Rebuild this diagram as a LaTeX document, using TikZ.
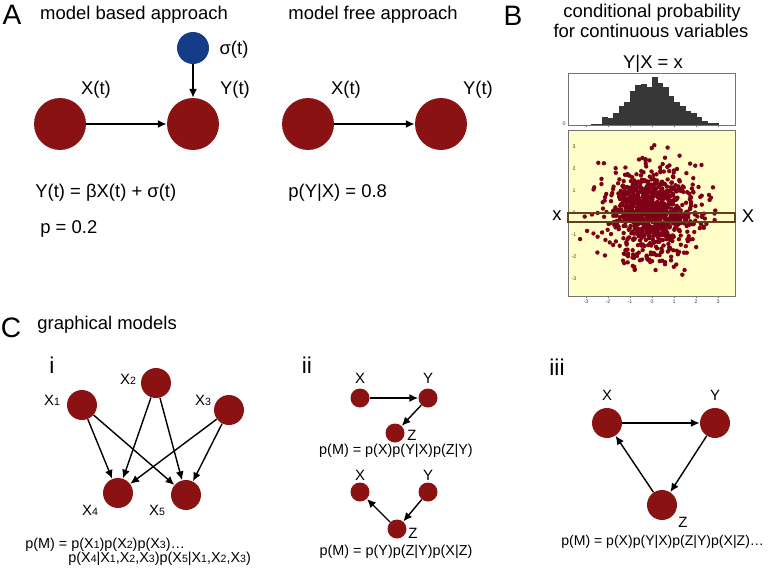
\documentclass[tikz,border=0pt]{standalone}
\usepackage{fontspec}
\setmainfont{Liberation Sans}
\usetikzlibrary{arrows.meta}
\definecolor{varred}{RGB}{138,18,18}
\definecolor{noiseblue}{RGB}{20,60,135}
\definecolor{plotyellow}{RGB}{255,253,200}
\definecolor{dotred}{RGB}{125,0,22}
\definecolor{bargray}{RGB}{55,55,55}
\definecolor{slicebrown}{RGB}{95,65,30}
\newcommand{\vidx}[1]{{\fontsize{6}{7}\selectfont #1}}
\tikzstyle{bigvar}=[circle, fill=varred, inner sep=0pt, minimum size=1.04cm]
\tikzstyle{midvar}=[circle, fill=varred, inner sep=0pt, minimum size=0.6cm]
\tikzstyle{smallvar}=[circle, fill=varred, inner sep=0pt, minimum size=0.38cm]
\tikzstyle{noisevar}=[circle, fill=noiseblue, inner sep=0pt, minimum size=0.64cm]
\tikzstyle{edge}=[-{Latex[length=5pt,width=4.5pt]}, line width=0.8pt]
\tikzstyle{panel}=[inner sep=0pt, font=\fontsize{16}{18}\selectfont]
\tikzstyle{heading}=[inner sep=0pt, font=\fontsize{10.5}{12.5}\selectfont]
\tikzstyle{numeral}=[inner sep=0pt, font=\fontsize{13}{15}\selectfont]
\tikzstyle{varlabel}=[inner sep=0pt, font=\fontsize{8.5}{10}\selectfont]
\tikzstyle{formula}=[inner sep=0pt, font=\fontsize{8.2}{10}\selectfont]
\tikzstyle{ticklabel}=[inner sep=0pt, text=black!75, font=\fontsize{3}{3.5}\selectfont]
\tikzstyle{frame}=[draw=black!55, line width=0.35pt]

\begin{document}
\begin{tikzpicture}[x=0.02cm, y=-0.02cm]
  \useasboundingbox (0,0) rectangle (768,572);

  \node[panel] (pa) at (12,15) {A};
  \node[heading] (basedtitle) at (134,15) {model based approach};
  \node[heading] (freetitle) at (373,15) {model free approach};
  \node[bigvar] (bx) at (60,124) {};
  \node[bigvar] (by) at (193,124) {};
  \node[noisevar] (bs) at (193,48) {};
  \node[heading] (bxl) at (96,90) {X(t)};
  \node[heading] (byl) at (235,90) {Y(t)};
  \node[heading] (bsl) at (234,50) {σ(t)};
  \draw[edge] (bx) -- (by);
  \draw[edge] (bs) -- (by);
  \node[heading, anchor=west] (beq) at (35,193) {Y(t) = βX(t) + σ(t)};
  \node[heading, anchor=west] (bp) at (40,229) {p = 0.2};
  \node[bigvar] (fx) at (308,124) {};
  \node[bigvar] (fy) at (441,124) {};
  \node[heading] (fxl) at (346,90) {X(t)};
  \node[heading] (fyl) at (478,90) {Y(t)};
  \draw[edge] (fx) -- (fy);
  \node[heading, anchor=west] (feq) at (288,193) {p(Y|X) = 0.8};

  \node[panel] (pb) at (513,16) {B};
  \node[heading] (condtitle) at (652,13) {conditional probability};
  \node[heading] (condtitleb) at (651,31) {for continuous variables};
  \node[heading] (histtitle) at (653,64) {Y|X = x};
  \foreach \h [count=\i from 0] in {0.7,1.3,8,6.7,12.3,19.3,23.3,34,40,41.3,38,48.3,41.7,37.7,29.3,23.3,19,14,11.7,7.7,4.3,2,1.7}
    \fill[bargray] ({591+5.56*\i},125) rectangle ({591+5.56*(\i+1)},{125-\h});
  \draw[frame] (568,73) rectangle (735,125);
  \foreach \t in {-3,...,3}
    \draw[frame] ({652+22*\t},125) -- ({652+22*\t},127);
  \node[ticklabel] (histzero) at (564,124) {0};
  \begin{scope}
    \clip (568,130) rectangle (735,296);
    \fill[plotyellow] (568,130) rectangle (735,296);
    \pgfmathsetseed{42}
    \foreach \k in {1,...,1000}{
      \pgfmathsetmacro\rr{sqrt(-2*ln(0.001+0.998*rnd))}
      \pgfmathsetmacro\aa{360*rnd}
      \fill[dotred] ({652+21.8*\rr*cos(\aa)},{213-22*\rr*sin(\aa)}) circle[radius=2.2];
    }
  \end{scope}
  \draw[frame] (568,130) rectangle (735,296);
  \draw[slicebrown, line width=0.7pt] (568,213) rectangle (735,222);
  \foreach \t in {-3,...,3}{
    \draw[frame] ({652+22*\t},296) -- ({652+22*\t},298);
    \node[ticklabel] at ({652+22*\t},302) {\t};
    \node[ticklabel] at (574,{213-22*\t}) {\t};
  }
  \node[heading] (slicex) at (557,216) {x};
  \node[heading] (axisx) at (748,216) {X};

  \node[panel] (pc) at (11,328) {C};
  \node[heading, anchor=west] (gmtitle) at (37,325) {graphical models};
  \node[numeral] (ni) at (52,365) {i};
  \node[midvar] (x1) at (82,405) {};
  \node[midvar] (x2) at (156,383) {};
  \node[midvar] (x3) at (229,410) {};
  \node[midvar] (x4) at (118,493) {};
  \node[midvar] (x5) at (186,495) {};
  \node[varlabel] (x1l) at (52,400) {X\vidx{1}};
  \node[varlabel] (x2l) at (128,379) {X\vidx{2}};
  \node[varlabel] (x3l) at (203,400) {X\vidx{3}};
  \node[varlabel] (x4l) at (90,510) {X\vidx{4}};
  \node[varlabel] (x5l) at (157,510) {X\vidx{5}};
  \foreach \a in {x1,x2,x3}
    \foreach \b in {x4,x5}
      \draw[edge] (\a) -- (\b);
  \node[formula, anchor=west] (ieqa) at (25,545) {p(M) = p(X\vidx{1})p(X\vidx{2})p(X\vidx{3})…};
  \node[formula, anchor=west] (ieqb) at (68,559) {p(X\vidx{4}|X\vidx{1},X\vidx{2},X\vidx{3})p(X\vidx{5}|X\vidx{1},X\vidx{2},X\vidx{3})};

  \node[numeral] (nii) at (307,365) {ii};
  \node[smallvar] (cx) at (360,398) {};
  \node[smallvar] (cy) at (428,398) {};
  \node[smallvar] (cz) at (395,433) {};
  \node[varlabel] at (412,435) {Z};
  \node[varlabel] at (360,378) {X};
  \node[varlabel] at (428,378) {Y};
  \draw[edge] (cx) -- (cy);
  \draw[edge] (cy) -- (cz);
  \node[formula] (iieqa) at (396,451) {p(M) = p(X)p(Y|X)p(Z|Y)};
  \node[smallvar] (dx) at (360,492) {};
  \node[smallvar] (dy) at (428,492) {};
  \node[smallvar] (dz) at (397,529) {};
  \node[varlabel] at (360,475) {X};
  \node[varlabel] at (428,475) {Y};
  \node[varlabel] at (413,533) {Z};
  \draw[edge] (dz) -- (dx);
  \draw[edge] (dy) -- (dz);
  \node[formula] (iieqb) at (396,552) {p(M) = p(Y)p(Z|Y)p(X|Z)};

  \node[numeral] (niii) at (557,367) {iii};
  \node[midvar] (tx) at (607,423) {};
  \node[midvar] (ty) at (715,423) {};
  \node[midvar] (tz) at (662,505) {};
  \node[varlabel] at (607,395) {X};
  \node[varlabel] at (715,395) {Y};
  \node[varlabel] at (683,522) {Z};
  \draw[edge] (tx) -- (ty);
  \draw[edge] (ty) -- (tz);
  \draw[edge] (tz) -- (tx);
  \node[formula, anchor=west, font=\fontsize{8}{10}\selectfont] (iiieq) at (561,542) {p(M) = p(X)p(Y|X)p(Z|Y)p(X|Z)…};
\end{tikzpicture}
\end{document}
